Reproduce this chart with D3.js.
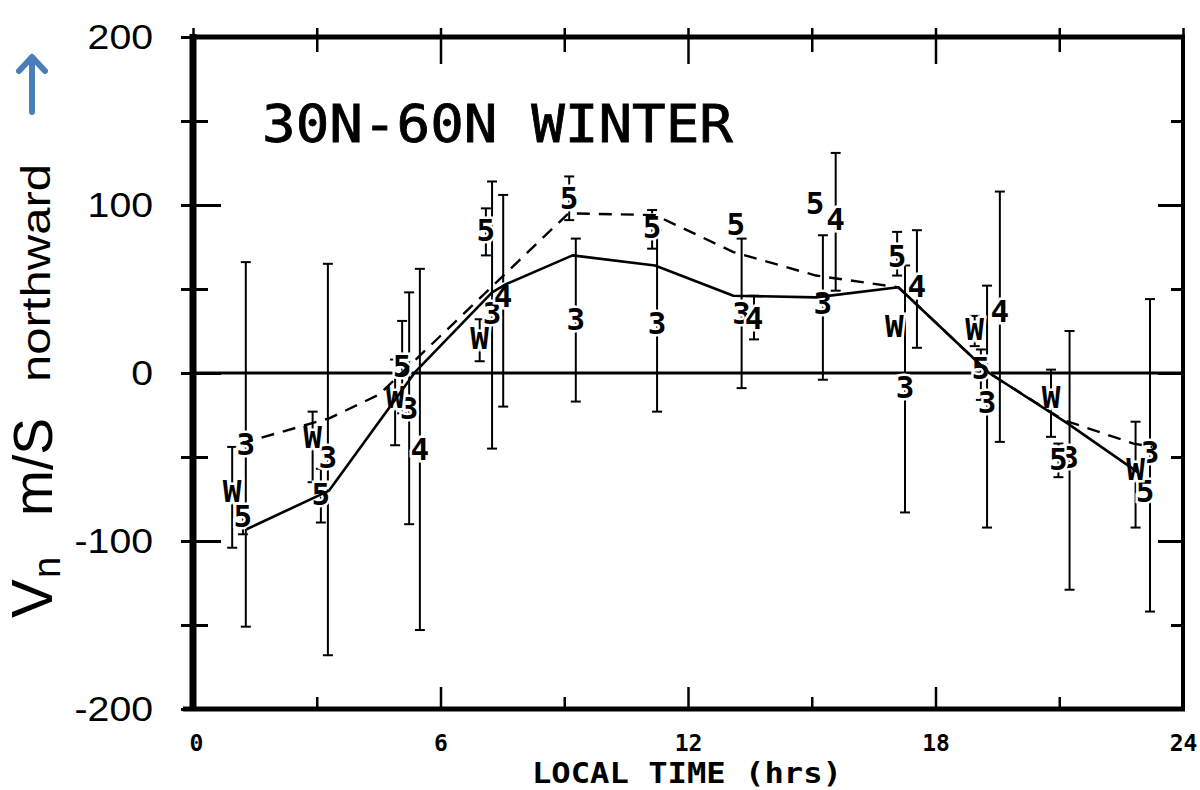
<!DOCTYPE html>
<html><head><meta charset="utf-8">
<script src="https://cdn.jsdelivr.net/npm/d3@7"></script>
<style>body{margin:0;background:#fff}svg{display:block}</style>
</head><body>
<svg id="c" width="1200" height="790"></svg>
<script>
// ---- data: [local time (hrs), value, error-bar low, error-bar high] ----
const series3 = [[1.28,-42,-151,66],[3.27,-50,-168,65],[5.24,-21,-90,48],[7.25,36,-45,114],[9.28,32,-17,80],[11.25,30,-23,85],[13.3,36,-9,80],[15.27,42,-4,82],[17.26,-8,-83,64],[19.25,-17,-92,52],[21.25,-50,-129,25],[23.2,-47,-142,44]];
const series5 = [[1.21,-85,-96,-78],[3.1,-72,-89,-57],[5.07,4,-24,31],[7.1,85,70,98],[9.12,104,91,117],[11.13,87,74,97],[13.16,89,null,null],[15.08,101,null,null],[17.07,70,58,84],[19.1,3,-16,14],[20.98,-51,-62,-42],[23.08,-70,null,null]];
const series4 = [[5.5,-45,-153,62],[7.52,46,-20,106],[13.6,33,20,46],[15.58,92,49,131],[17.55,52,15,85],[19.56,37,-41,108]];
const seriesW = [[0.95,-70,-104,-44],[2.9,-38,-65,-23],[4.9,-14,-43,8],[6.95,21,7,32],[17.0,28,null,null],[18.95,26,16,34],[20.8,-14,-38,2],[22.85,-57,-92,-29]];
const solidHours = [1.3,3.3,5.4,7.25,7.6,9.2,11.2,13.1,15.1,17.1,19.3,21.2,22.9];
const solidVals  = [-93,-70,1,48,53,70,64,46,45,51,0,-30,-59];
const dashHours  = [1.15,3.3,4.5,5.4,9.1,11.2,13.1,15.1,17.1,19.3,21.1,22.8,23.25];
const dashVals   = [-42,-27,-13,8,95,94,72,58,51,0,-28,-42,-44];
const yTickVals  = [-200,-150,-100,-50,0,50,100,150,200];
const yTickLabels= {"-200":"-200","-100":"-100","0":"0","100":"100","200":"200"};
const xTickVals  = [0,3,6,9,12,15,18,21,24];
const xTickLabels= {"0":"0","6":"6","12":"12","18":"18","24":"24"};
const title = "30N-60N WINTER";
const xTitle = "LOCAL TIME (hrs)";

const svg = d3.select("#c");
const x = d3.scaleLinear().domain([0,24]).range([193,1183]);
const y = d3.scaleLinear().domain([-200,200]).range([709,37]);
const X0 = x(0), X1 = x(24), Y0 = y(-200), Y1 = y(200);

// error bars
const allSeries = [["3",series3],["5",series5],["4",series4],["W",seriesW]];
const gBars = svg.append("g").attr("stroke","#000").attr("stroke-width",2).attr("fill","none");
allSeries.forEach(([lab,arr])=>{
  arr.filter(d=>d[2]!==null).forEach(d=>{
    const cx = x(d[0]);
    gBars.append("line").attr("x1",cx).attr("x2",cx).attr("y1",y(d[2])).attr("y2",y(d[3]));
    gBars.append("line").attr("x1",cx-5).attr("x2",cx+5).attr("y1",y(d[2])).attr("y2",y(d[2]));
    gBars.append("line").attr("x1",cx-5).attr("x2",cx+5).attr("y1",y(d[3])).attr("y2",y(d[3]));
  });
});

// zero line
svg.append("line").attr("x1",X0).attr("x2",X1).attr("y1",y(0)).attr("y2",y(0))
  .attr("stroke","#000").attr("stroke-width",3);

// symbols
const gSym = svg.append("g").attr("font-family","DejaVu Sans Mono").attr("font-weight","bold")
  .attr("font-size",31).attr("text-anchor","middle");
allSeries.forEach(([lab,arr])=>{
  arr.forEach(d=>{
    gSym.append("text").attr("x",x(d[0])).attr("y",y(d[1])).attr("dy","0.36em")
      .attr("stroke","#fff").attr("stroke-width",5).attr("paint-order","stroke")
      .attr("fill","#000").text(lab);
  });
});

// lines
const line = d3.line().x(d=>x(d[0])).y(d=>y(d[1]));
svg.append("path").datum(solidHours.map((h,i)=>[h,solidVals[i]])).attr("d",line)
  .attr("fill","none").attr("stroke","#000").attr("stroke-width",2.6).attr("stroke-linejoin","round");
svg.append("path").datum(dashHours.map((h,i)=>[h,dashVals[i]])).attr("d",line)
  .attr("fill","none").attr("stroke","#000").attr("stroke-width",2.4).attr("stroke-dasharray","13,9");

// frame
const fr = svg.append("g").attr("stroke","#000").attr("fill","none");
fr.append("line").attr("x1",X0-3).attr("x2",X1+2).attr("y1",Y1).attr("y2",Y1).attr("stroke-width",5);
fr.append("line").attr("x1",X0-10).attr("x2",X1+2).attr("y1",Y0).attr("y2",Y0).attr("stroke-width",5);
fr.append("line").attr("x1",X0).attr("x2",X0).attr("y1",Y1-3).attr("y2",Y0+2).attr("stroke-width",7);
fr.append("line").attr("x1",X1).attr("x2",X1).attr("y1",Y1-2).attr("y2",Y0+2).attr("stroke-width",4);

// left axis (outer ticks + labels)
const axL = svg.append("g").attr("transform",`translate(${X0},0)`)
  .call(d3.axisLeft(y).tickValues(yTickVals).tickSize(12).tickPadding(28)
    .tickFormat(d=>yTickLabels[d]||""));
axL.select(".domain").remove();
axL.selectAll(".tick line").attr("stroke-width",3);
axL.selectAll(".tick text").attr("font-family","Liberation Sans").attr("font-size",35).attr("fill","#000")
  .each(function(){ const n=this.getComputedTextLength(); if(n>0) d3.select(this).attr("textLength",n*1.12).attr("lengthAdjust","spacingAndGlyphs"); });
// left inner ticks
const axLi = svg.append("g").attr("transform",`translate(${X0},0)`)
  .call(d3.axisRight(y).tickValues(yTickVals).tickSize(15).tickFormat(""));
axLi.select(".domain").remove();
axLi.selectAll(".tick line").attr("stroke-width",3).attr("x2",d=>d%100===0?28:15);
// right inner ticks
const axR = svg.append("g").attr("transform",`translate(${X1},0)`)
  .call(d3.axisLeft(y).tickValues(yTickVals).tickSize(13).tickFormat(""));
axR.select(".domain").remove();
axR.selectAll(".tick line").attr("stroke-width",3).attr("x2",d=>d%100===0?-25:-12);
// top ticks
const axT = svg.append("g").attr("transform",`translate(0,${Y1})`)
  .call(d3.axisBottom(x).tickValues(xTickVals).tickSize(13).tickFormat(""));
axT.select(".domain").remove();
axT.selectAll(".tick line").attr("stroke-width",2.5).attr("y1",-9).attr("y2",d=>d%6===0?27:15);
// bottom ticks + labels
const axB = svg.append("g").attr("transform",`translate(0,${Y0})`)
  .call(d3.axisTop(x).tickValues(xTickVals).tickSize(13).tickFormat(""));
axB.select(".domain").remove();
axB.selectAll(".tick line").attr("stroke-width",2.5).attr("y2",d=>d%6===0?-22:-12);
const axBl = svg.append("g").attr("transform",`translate(0,${Y0})`)
  .call(d3.axisBottom(x).tickValues(xTickVals).tickSize(0).tickPadding(26).tickFormat(d=>xTickLabels[d]||""));
axBl.select(".domain").remove();
axBl.selectAll(".tick text").attr("font-family","DejaVu Sans Mono").attr("font-weight","bold")
  .attr("font-size",23).attr("fill","#000");
axBl.select(".tick text").attr("dx",3);

// titles
svg.append("text").attr("x",262).attr("y",142).attr("font-family","DejaVu Sans Mono")
  .attr("font-size",51).attr("textLength",471).attr("lengthAdjust","spacingAndGlyphs")
  .attr("stroke","#000").attr("stroke-width",0.8).text(title);
svg.append("text").attr("x",532).attr("y",783).attr("font-family","DejaVu Sans Mono").attr("font-weight","bold")
  .attr("font-size",29).attr("textLength",310).attr("lengthAdjust","spacingAndGlyphs").text(xTitle);

// y-axis title (rotated pieces)
const yt = svg.append("g").attr("font-family","Liberation Sans").attr("fill","#000");
yt.append("text").attr("transform","translate(52,618) rotate(-90)").attr("font-size",58).text("V");
yt.append("text").attr("transform","translate(60,578) rotate(-90)").attr("font-size",38).text("n");
yt.append("text").attr("transform","translate(52,516) rotate(-90)").attr("font-size",55)
  .attr("textLength",98).attr("lengthAdjust","spacingAndGlyphs").text("m/S");
yt.append("text").attr("transform","translate(50,382) rotate(-90)").attr("font-size",40)
  .attr("textLength",218).attr("lengthAdjust","spacingAndGlyphs").text("northward");
// arrow
const ar = svg.append("g").attr("stroke","#4a7ebb").attr("stroke-width",6).attr("fill","none")
  .attr("stroke-linecap","round").attr("stroke-linejoin","round");
ar.append("line").attr("x1",32).attr("x2",32).attr("y1",112).attr("y2",58);
ar.append("polyline").attr("points","19,71 32,57 45,71");
</script>
</body></html>
